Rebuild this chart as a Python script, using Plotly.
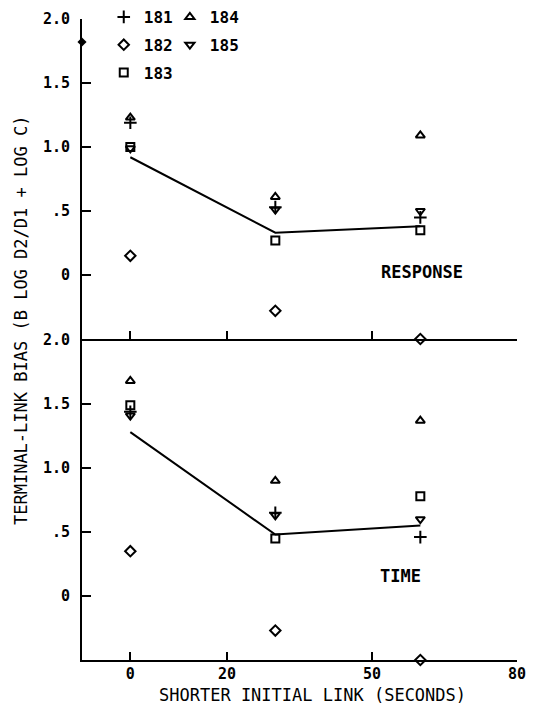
import plotly.graph_objects as go

# ---- data ----
x_links = [0, 30, 60]
x_ticks = [0, 20, 50, 80]
x_ticktext = ["0", "20", "50", "80"]
y_ticks = [2.0, 1.5, 1.0, 0.5, 0.0]
y_ticktext = ["2.0", "1.5", "1.0", ".5", "0"]

subjects = ["181", "182", "183", "184", "185"]
symbols = {"181": "cross-thin-open", "182": "diamond-open", "183": "square-open",
           "184": "triangle-up-open", "185": "triangle-down-open"}
sizes = {"181": 9, "182": 8, "183": 8, "184": 8, "185": 8}

response = {
    "181": [1.19, 0.53, 0.45],
    "182": [0.15, -0.28, -0.50],
    "183": [1.00, 0.27, 0.35],
    "184": [1.23, 0.61, 1.09],
    "185": [0.99, 0.51, 0.50],
}
response_mean = [0.92, 0.33, 0.38]

time_ = {
    "181": [1.44, 0.65, 0.46],
    "182": [0.35, -0.27, -0.50],
    "183": [1.49, 0.45, 0.78],
    "184": [1.68, 0.90, 1.37],
    "185": [1.41, 0.63, 0.60],
}
time_mean = [1.28, 0.48, 0.55]

axis_mark_x = [-10]
axis_mark_y = [1.82]

FONT = "DejaVu Sans Mono"
fig = go.Figure()

legend_of = {"181": "legend", "182": "legend", "183": "legend",
             "184": "legend2", "185": "legend2"}

# upper panel: RESPONSE
for s in subjects:
    fig.add_trace(go.Scatter(
        x=x_links, y=response[s], mode="markers", name=s,
        xaxis="x2", yaxis="y2", cliponaxis=False,
        marker=dict(symbol=symbols[s], size=sizes[s], color="black",
                    line=dict(width=2, color="black")),
        legend=legend_of[s], legendgroup=s, showlegend=True))
fig.add_trace(go.Scatter(x=x_links, y=response_mean, mode="lines",
                         xaxis="x2", yaxis="y2", line=dict(color="black", width=2),
                         showlegend=False))
fig.add_trace(go.Scatter(x=axis_mark_x, y=axis_mark_y, mode="markers",
                         xaxis="x2", yaxis="y2", cliponaxis=False,
                         marker=dict(symbol="diamond", size=7, color="black"),
                         showlegend=False))

# lower panel: TIME
for s in subjects:
    fig.add_trace(go.Scatter(
        x=x_links, y=time_[s], mode="markers", name=s,
        xaxis="x", yaxis="y", cliponaxis=False,
        marker=dict(symbol=symbols[s], size=sizes[s], color="black",
                    line=dict(width=2, color="black")),
        legendgroup=s, showlegend=False))
fig.add_trace(go.Scatter(x=x_links, y=time_mean, mode="lines",
                         xaxis="x", yaxis="y", line=dict(color="black", width=2),
                         showlegend=False))

tickfont = dict(family=FONT, size=15, color="black", weight="bold")
xcommon = dict(range=[-10, 80], tickvals=x_ticks, ticktext=x_ticktext,
               ticks="inside", ticklen=8, tickwidth=2, tickcolor="black",
               showline=True, linewidth=2, linecolor="black",
               showgrid=False, zeroline=False, tickfont=tickfont,
               automargin=False)
ycommon = dict(range=[-0.5, 2.0], tickvals=y_ticks, ticktext=y_ticktext,
               ticks="inside", ticklen=9, tickwidth=2, tickcolor="black",
               showline=True, linewidth=2, linecolor="black",
               showgrid=False, zeroline=False, tickfont=tickfont,
               ticklabelstandoff=7, automargin=False)

legend_common = dict(font=dict(family=FONT, size=16, color="black", weight="bold"),
                     bgcolor="rgba(0,0,0,0)", borderwidth=0,
                     traceorder="grouped", tracegroupgap=4,
                     itemwidth=30, xanchor="left", yanchor="top")

title_font = dict(family=FONT, size=17, color="black")

fig.update_layout(
    width=535, height=710, autosize=False,
    margin=dict(l=82, r=18, t=0, b=50, autoexpand=False),
    paper_bgcolor="white", plot_bgcolor="white",
    showlegend=True,
    xaxis=dict(domain=[0, 1], anchor="y", ticklabelstandoff=-1, **xcommon),
    xaxis2=dict(domain=[0, 1], anchor="y2", matches="x",
                showticklabels=False, **xcommon),
    yaxis=dict(domain=[0, 0.48485], anchor="x", **ycommon),
    yaxis2=dict(domain=[0.48636, 0.97121], anchor="x2", **ycommon),
    legend=dict(x=0.050, y=1.0, **legend_common),
    legend2=dict(x=0.202, y=1.0, **legend_common),
    annotations=[
        dict(text="RESPONSE", x=60.3, y=0.02, xref="x2", yref="y2",
             showarrow=False,
             font=dict(family=FONT, size=17, color="black", weight="bold")),
        dict(text="TIME", x=55.9, y=0.16, xref="x", yref="y",
             showarrow=False,
             font=dict(family=FONT, size=17, color="black", weight="bold")),
        dict(text="TERMINAL-LINK BIAS (B LOG D2/D1 + LOG C)", textangle=-90,
             x=0, xshift=-61, y=0.5136, xref="paper", yref="paper",
             xanchor="center", yanchor="middle", showarrow=False,
             font=title_font),
        dict(text="SHORTER INITIAL LINK (SECONDS)",
             x=0.529, y=0, yshift=-35, xref="paper", yref="paper",
             xanchor="center", yanchor="middle", showarrow=False,
             font=title_font),
    ],
)

fig.write_html("out.html", config={"displayModeBar": False},
               post_script="document.body.style.margin='0px';")
